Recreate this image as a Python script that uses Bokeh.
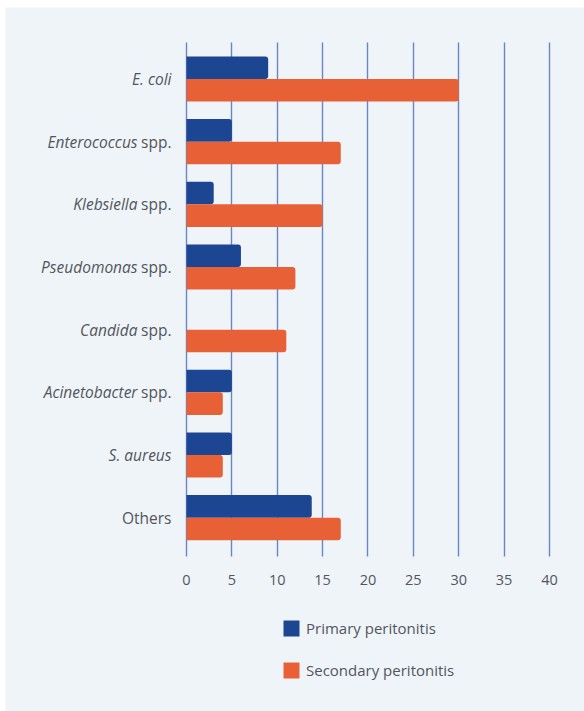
from bokeh.plotting import figure
from bokeh.models import (ColumnDataSource, FixedTicker, LabelSet, Legend, LegendItem,
                          Range1d)
from bokeh.core.properties import value
from bokeh.transform import dodge
from bokeh.embed import file_html
from bokeh.resources import INLINE

# Isolated organisms, % of patients
organisms = ["E. coli", "Enterococcus spp.", "Klebsiella spp.", "Pseudomonas spp.",
             "Candida spp.", "Acinetobacter spp.", "S. aureus", "Others"]
italic_part = ["E. coli", "Enterococcus", "Klebsiella", "Pseudomonas",
               "Candida", "Acinetobacter", "S. aureus", ""]
roman_part = ["", "spp.", "spp.", "spp.", "spp.", "spp.", "", "Others"]
primary = [9, 5, 3, 6, 0, 5, 5, 13.8]
secondary = [30, 17, 15, 12, 11, 4, 4, 17]
x_ticks = [0, 5, 10, 15, 20, 25, 30, 35, 40]

BLUE = "#1c4592"
ORANGE = "#e86036"
PANEL = "#eff4f9"
TEXT = "#52565c"
GRID = "#6686c6"
FONT = "Open Sans"

# one row per organism, first row at the top
row = list(range(len(organisms)))

# width of " spp." so the italic genus ends just before the suffix
SUFFIX_W = 34
italic_offset = [-15 - (SUFFIX_W if (r and i) else 0) for i, r in zip(italic_part, roman_part)]

src = ColumnDataSource(dict(row=row, italic=italic_part, roman=roman_part,
                            ioff=italic_offset, primary=primary, secondary=secondary))

# the frame covers the whole panel so labels and legend sit inside it
p = figure(width=579, height=704, output_backend="svg", toolbar_location=None,
           x_range=Range1d(-19.945, 43.857), y_range=Range1d(10.093, -1.141),
           min_border=0)
p.margin = (7, 0, 0, 5)
p.background_fill_color = PANEL
p.border_fill_color = PANEL
p.outline_line_color = None

GRID_TOP, GRID_BOTTOM = -0.582, 7.619

p.xgrid.ticker = FixedTicker(ticks=x_ticks)
p.xgrid.grid_line_color = GRID
p.xgrid.grid_line_width = 1.4
p.xgrid.cross_bounds = (GRID_TOP, GRID_BOTTOM)
p.ygrid.visible = False
p.yaxis.visible = False

r1 = p.hbar(y=dodge("row", -0.18), left=0, right="primary",
            height=0.36, source=src, fill_color=BLUE, line_color=None,
            border_radius=(0, 3, 3, 0))
r2 = p.hbar(y=dodge("row", 0.18), left=0, right="secondary",
            height=0.36, source=src, fill_color=ORANGE, line_color=None,
            border_radius=(0, 3, 3, 0))

ax = p.xaxis[0]
ax.fixed_location = GRID_BOTTOM
ax.ticker = FixedTicker(ticks=x_ticks)
ax.axis_line_color = None
ax.major_tick_line_color = None
ax.minor_tick_line_color = None
ax.major_label_standoff = 13
ax.major_label_text_font = FONT
ax.major_label_text_font_size = "14.5px"
ax.major_label_text_color = TEXT

# category names: italic genus + roman suffix
p.add_layout(LabelSet(x=0, y="row", text="italic", source=src, x_offset="ioff",
                      text_align="right", text_baseline="middle", text_font=value(FONT),
                      text_font_style="italic", text_font_size="15.5px", text_color=TEXT))
p.add_layout(LabelSet(x=0, y="row", text="roman", source=src, x_offset=-15,
                      text_align="right", text_baseline="middle", text_font=value(FONT),
                      text_font_size="15.5px", text_color=TEXT))

legend = Legend(items=[LegendItem(label="Primary peritonitis", renderers=[r1]),
                       LegendItem(label="Secondary peritonitis", renderers=[r2])],
                location=(276, 31), orientation="vertical",
                glyph_width=20, glyph_height=20, label_height=20, spacing=22,
                label_standoff=5, padding=0, margin=0,
                border_line_color=None, background_fill_alpha=0,
                label_text_font=FONT, label_text_font_size="15px",
                label_text_color=TEXT)
p.add_layout(legend, "center")

open("out.html", "w").write(file_html(p, INLINE))
